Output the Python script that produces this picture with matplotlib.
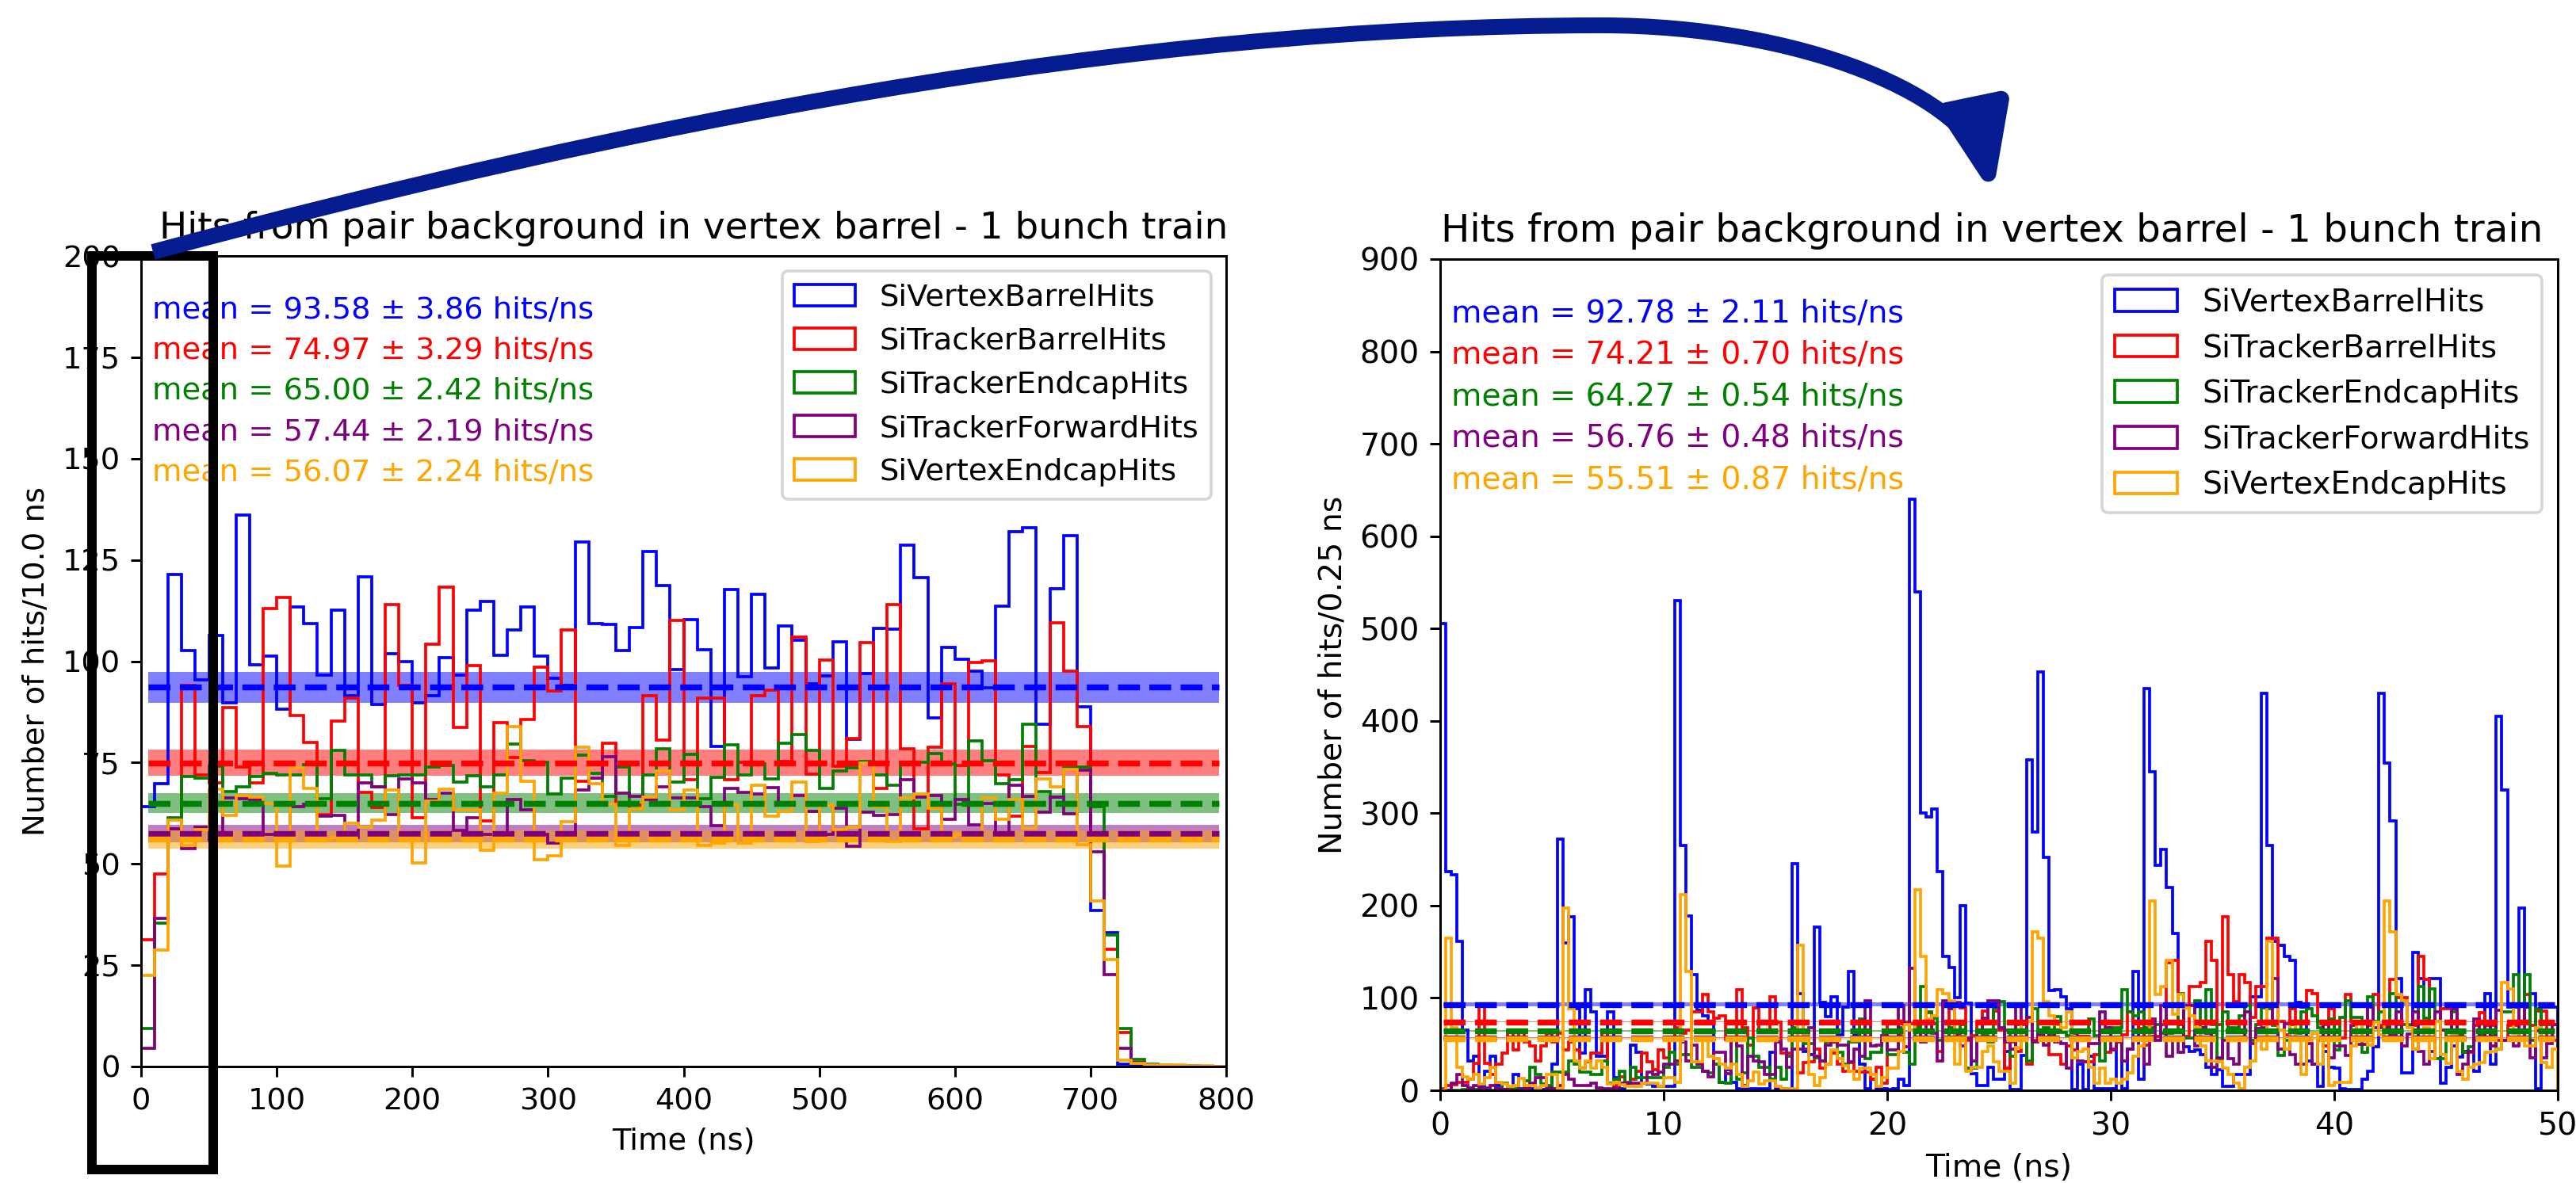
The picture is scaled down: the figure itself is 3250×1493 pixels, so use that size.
import numpy as np
import matplotlib
matplotlib.use("Agg")
import matplotlib.pyplot as plt
from matplotlib.patches import Rectangle, FancyArrowPatch, ArrowStyle
from matplotlib.path import Path

plt.rcParams['font.family'] = ['DejaVu Sans']

# ---------------- data ----------------
detectors = ["SiVertexBarrelHits", "SiTrackerBarrelHits", "SiTrackerEndcapHits",
             "SiTrackerForwardHits", "SiVertexEndcapHits"]
colors = ["blue", "red", "green", "purple", "orange"]

# full bunch train, 10 ns bins from 0 to 800 ns
edges_10ns = np.arange(0, 801, 10)
vtx_barrel_10ns = [64.1, 69.7, 121.5, 102.7, 95.5, 106.4, 89.8, 136, 99.2, 101.2,
                   88.1, 113.4, 109.2, 96.6, 112.7, 91.4, 120.9, 89.4, 101.8, 99.9,
                   89.8, 91.5, 100.9, 96.6, 112.7, 114.8, 101.5, 107.7, 113.4, 101.2,
                   95.7, 94.0, 129.5, 109.2, 109.0, 102.7, 108.3, 127, 118.6, 97.9,
                   110.3, 102.9, 78.9, 117.7, 96.2, 116.6, 98.3, 108.7, 105.1, 94.4,
                   96.3, 104.8, 80.8, 96.9, 108.1, 107.9, 128.7, 120.6, 86.0, 103.4,
                   100.5, 97.6, 93.5, 113.6, 132, 133, 84.4, 117.8, 131, 88.7,
                   38.6, 33.1, 0.6, 0.2, 0.1, 0.1, 0, 0, 0, 0]
trk_barrel_10ns = [31.3, 47.5, 58.6, 94.0, 72.0, 70.0, 88.6, 73.9, 70.0, 113.0,
                   115.8, 86.6, 80.0, 62.1, 85.3, 90.9, 67.6, 63.9, 114.0, 94.0,
                   61.3, 104.3, 118.2, 83.7, 99.0, 60.6, 84.9, 76.3, 85.7, 98.5,
                   92.7, 107.7, 70.4, 71.1, 79.8, 64.7, 64.5, 91.4, 80.6, 110.0,
                   70.7, 90.9, 90.9, 70.7, 75.0, 91.4, 92.8, 75.2, 106.0, 72.2,
                   100.3, 74.1, 80.9, 104.6, 68.7, 114.0, 78.3, 58.6, 78.7, 94.4,
                   74.3, 99.7, 100.1, 72.0, 61.7, 78.9, 72.6, 109.5, 97.5, 83.9,
                   57.0, 29.0, 8.5, 1.0, 0.3, 0.2, 0.1, 0, 0, 0]
trk_endcap_10ns = [9.3, 35.3, 61.3, 71.6, 71.1, 74.1, 67.8, 69.1, 71.6, 72.4,
                   72.0, 72.0, 74.5, 66.1, 78.0, 72.0, 72.0, 69.1, 71.7, 72.0,
                   72.0, 73.9, 74.3, 70.2, 71.7, 69.1, 72.0, 79.6, 75.5, 75.0,
                   67.2, 71.1, 76.9, 72.3, 66.7, 73.9, 63.6, 72.0, 78.3, 70.2,
                   77.1, 66.1, 71.3, 79.3, 72.0, 74.6, 71.0, 79.8, 81.9, 78.0,
                   68.7, 72.9, 73.7, 75.2, 72.0, 69.5, 75.0, 75.0, 77.3, 74.6,
                   64.7, 80.3, 75.4, 69.7, 70.7, 84.4, 67.8, 66.5, 73.7, 73.9,
                   64.1, 32.5, 9.3, 1.7, 0.5, 0.3, 0.2, 0.1, 0, 0]
trk_forward_10ns = [4.5, 36.6, 58.6, 53.7, 59.1, 55.8, 66.2, 66.1, 65.9, 57.3,
                    56.7, 64.1, 64.7, 61.7, 62.0, 56.5, 70.0, 69.1, 62.1, 70.9,
                    70.0, 65.8, 67.4, 58.2, 61.3, 57.3, 57.3, 65.8, 63.4, 57.3,
                    55.1, 56.5, 68.2, 71.1, 76.4, 67.4, 66.7, 65.8, 69.1, 66.2,
                    66.2, 64.1, 59.5, 68.7, 67.6, 67.2, 68.8, 64.7, 66.9, 63.0,
                    57.3, 63.7, 54.3, 62.7, 61.9, 62.1, 70.7, 66.5, 66.8, 61.0,
                    65.8, 59.7, 64.9, 56.9, 69.4, 66.7, 62.8, 66.5, 62.4, 73.2,
                    53.0, 22.6, 4.4, 0.9, 0.3, 0.2, 0.1, 0.1, 0, 0]
vtx_endcap_10ns = [22.4, 28.7, 60.8, 54.5, 58.4, 68.4, 62.0, 66.9, 66.5, 64.9,
                   49.5, 73.7, 68.7, 56.0, 56.5, 60.1, 59.1, 60.8, 68.2, 57.8,
                   50.3, 65.4, 68.4, 63.3, 63.4, 53.4, 67.4, 83.9, 70.4, 51.0,
                   52.1, 60.4, 78.7, 69.7, 64.7, 54.5, 63.6, 66.5, 72.9, 63.3,
                   68.2, 54.5, 55.1, 64.5, 55.1, 69.5, 61.7, 63.0, 70.2, 55.6,
                   64.5, 58.4, 59.1, 74.8, 64.1, 55.6, 66.2, 67.2, 63.7, 56.6,
                   57.3, 56.5, 66.2, 61.0, 65.9, 58.8, 70.9, 69.1, 73.3, 54.7,
                   40.8, 26.4, 1.5, 0.8, 0.3, 0.3, 0.3, 0.2, 0.1, 0]
means_10ns = [93.58, 74.97, 65.00, 57.44, 56.07]
errs_10ns = [3.86, 3.29, 2.42, 2.19, 2.24]

# first 50 ns of the train, 0.25 ns bins
edges_025ns = np.linspace(0, 50, 201)
vtx_barrel_025ns = [505, 237, 233, 161, 65, 32, 37, 5, 21, 37,
                    5, 1, 1, 17, 2, 2, 2, 1, 1, 1,
                    28, 272, 160, 188, 88, 40, 109, 85, 37, 37,
                    85, 14, 2, 8, 49, 41, 8, 7, 4, 4,
                    4, 4, 530, 265, 189, 125, 87, 81, 73, 28,
                    9, 22, 9, 2, 2, 2, 2, 2, 2, 41,
                    2, 2, 2, 245, 105, 42, 39, 177, 95, 80,
                    101, 60, 90, 129, 60, 28, 2, 12, 2, 2,
                    1, 2, 12, 5, 640, 540, 300, 296, 305, 237,
                    145, 133, 100, 200, 94, 18, 5, 5, 25, 12,
                    12, 42, 1, 1, 38, 358, 280, 453, 252, 108,
                    109, 101, 88, 1, 28, 1, 37, 2, 2, 2,
                    2, 54, 2, 45, 129, 12, 435, 345, 244, 261,
                    220, 170, 91, 47, 42, 44, 39, 25, 17, 22,
                    4, 4, 17, 17, 17, 101, 101, 430, 265, 161,
                    157, 145, 141, 95, 90, 32, 28, 4, 42, 25,
                    24, 2, 1, 1, 1, 12, 21, 47, 430, 354,
                    292, 121, 19, 19, 149, 121, 92, 121, 121, 8,
                    25, 48, 36, 42, 42, 21, 54, 105, 28, 405,
                    325, 90, 90, 197, 90, 105, 2, 90, 90, 90]
trk_barrel_025ns = [2, 5, 6, 9, 9, 12, 29, 92, 29, 17,
                    28, 40, 65, 44, 65, 52, 48, 32, 48, 62,
                    52, 62, 44, 52, 44, 24, 31, 40, 40, 65,
                    8, 5, 15, 9, 12, 21, 40, 31, 22, 44,
                    35, 54, 68, 62, 65, 85, 85, 104, 85, 78,
                    81, 55, 54, 109, 68, 49, 89, 65, 65, 101,
                    74, 40, 40, 55, 19, 30, 31, 45, 24, 28,
                    40, 28, 21, 30, 21, 20, 20, 12, 25, 8,
                    75, 75, 59, 74, 72, 70, 74, 84, 72, 42,
                    54, 95, 95, 89, 54, 59, 72, 86, 74, 86,
                    65, 24, 52, 42, 54, 28, 54, 62, 54, 39,
                    39, 28, 48, 44, 58, 58, 31, 39, 54, 41,
                    45, 54, 60, 85, 75, 67, 49, 58, 58, 71,
                    138, 141, 71, 58, 112, 112, 117, 161, 141, 71,
                    188, 125, 96, 125, 117, 79, 112, 112, 165, 165,
                    75, 60, 88, 75, 75, 108, 105, 75, 48, 88,
                    57, 57, 104, 75, 55, 55, 70, 104, 70, 70,
                    120, 100, 100, 70, 70, 145, 120, 75, 75, 88,
                    88, 88, 59, 41, 41, 70, 84, 70, 70, 54,
                    54, 70, 70, 72, 104, 70, 86, 86, 54, 54]
trk_endcap_025ns = [0, 0, 0, 0, 1, 2, 1, 0, 2, 0,
                    2, 8, 3, 2, 1, 10, 25, 17, 7, 5,
                    20, 20, 20, 32, 28, 20, 20, 17, 17, 32,
                    8, 12, 21, 8, 25, 14, 14, 14, 14, 14,
                    25, 41, 28, 39, 39, 25, 25, 21, 19, 28,
                    9, 8, 57, 12, 19, 57, 37, 25, 25, 12,
                    25, 12, 37, 68, 65, 51, 51, 35, 32, 52,
                    52, 41, 28, 52, 52, 77, 34, 41, 41, 55,
                    39, 39, 68, 41, 28, 68, 112, 85, 78, 54,
                    54, 68, 61, 71, 24, 24, 65, 59, 52, 89,
                    96, 65, 37, 71, 71, 32, 88, 54, 68, 59,
                    80, 63, 59, 63, 63, 63, 77, 59, 32, 54,
                    68, 68, 109, 85, 81, 85, 68, 68, 71, 62,
                    62, 65, 105, 57, 57, 97, 68, 109, 71, 34,
                    85, 68, 68, 81, 92, 54, 71, 89, 88, 70,
                    38, 54, 71, 62, 85, 88, 81, 68, 71, 77,
                    44, 79, 97, 79, 79, 41, 101, 75, 85, 71,
                    105, 71, 71, 71, 45, 112, 78, 110, 34, 34,
                    65, 85, 59, 41, 47, 54, 59, 75, 59, 45,
                    85, 85, 125, 72, 125, 54, 88, 71, 71, 71]
trk_forward_025ns = [0, 0, 8, 17, 5, 3, 5, 3, 3, 5,
                     2, 1, 0, 0, 1, 2, 8, 14, 14, 3,
                     2, 5, 17, 12, 5, 5, 5, 8, 3, 2,
                     2, 3, 8, 8, 8, 8, 8, 20, 17, 20,
                     28, 28, 32, 52, 32, 49, 28, 21, 15, 41,
                     41, 18, 55, 48, 5, 37, 32, 31, 17, 17,
                     52, 45, 25, 45, 45, 45, 68, 37, 32, 49,
                     52, 49, 49, 31, 45, 37, 97, 48, 49, 59,
                     44, 44, 92, 47, 132, 65, 52, 72, 62, 32,
                     97, 88, 61, 48, 57, 32, 65, 78, 97, 97,
                     68, 52, 45, 92, 54, 79, 52, 61, 49, 65,
                     52, 51, 24, 62, 32, 31, 51, 51, 85, 68,
                     44, 52, 32, 45, 54, 57, 28, 77, 54, 92,
                     37, 54, 41, 92, 92, 48, 68, 62, 25, 35,
                     54, 34, 28, 54, 85, 51, 67, 68, 72, 121,
                     45, 72, 39, 28, 28, 51, 28, 54, 72, 35,
                     48, 48, 38, 70, 50, 50, 90, 68, 68, 68,
                     59, 85, 48, 61, 85, 42, 28, 42, 85, 65,
                     65, 88, 17, 28, 42, 77, 57, 75, 48, 87,
                     54, 54, 48, 92, 54, 35, 64, 35, 51, 71]
vtx_endcap_025ns = [0, 165, 68, 25, 15, 12, 17, 7, 14, 25,
                    9, 7, 4, 5, 13, 5, 5, 3, 5, 17,
                    17, 2, 197, 88, 32, 24, 32, 24, 32, 25,
                    7, 9, 6, 4, 4, 4, 8, 8, 8, 4,
                    14, 14, 9, 212, 129, 31, 31, 55, 37, 34,
                    28, 24, 28, 17, 4, 10, 20, 7, 10, 10,
                    4, 2, 2, 2, 157, 59, 17, 5, 14, 28,
                    44, 34, 27, 21, 12, 24, 24, 17, 4, 14,
                    24, 24, 42, 71, 65, 217, 145, 77, 81, 109,
                    105, 97, 28, 58, 21, 25, 25, 42, 48, 31,
                    21, 21, 8, 46, 75, 75, 172, 165, 96, 81,
                    71, 68, 85, 35, 42, 45, 25, 8, 24, 8,
                    12, 8, 12, 19, 37, 48, 54, 205, 104, 112,
                    141, 82, 104, 89, 81, 68, 48, 32, 32, 31,
                    24, 17, 8, 2, 25, 32, 54, 45, 161, 92,
                    65, 45, 75, 57, 17, 54, 62, 28, 54, 5,
                    9, 9, 9, 48, 75, 57, 49, 74, 60, 205,
                    172, 104, 97, 68, 45, 57, 68, 34, 75, 39,
                    29, 59, 21, 12, 25, 28, 30, 41, 42, 45,
                    117, 110, 62, 55, 48, 48, 68, 30, 25, 45]
means_025ns = [92.78, 74.21, 64.27, 56.76, 55.51]
errs_025ns = [2.11, 0.70, 0.54, 0.48, 0.87]

title = "Hits from pair background in vertex barrel - 1 bunch train"

# ---------------- figure ----------------
W, H, DPI = 3250, 1493, 268
fig = plt.figure(figsize=(W / DPI, H / DPI), dpi=DPI)


def frac_box(x0, y0, x1, y1):
    """pixel box (top-left origin) -> figure fraction [l, b, w, h]"""
    return [x0 / W, 1 - y1 / H, (x1 - x0) / W, (y1 - y0) / H]


def fx(x):
    return x / W


def fy(y):
    return 1 - y / H


def draw_panel(ax, edges, series, means, errs, ylabel, xlim, ylim, yticks, xticks,
               fs_text, fs_title, text_top, title_x):
    centers = 0.5 * (edges[1:] + edges[:-1])
    for vals, c, name in zip(series, colors, detectors):
        ax.hist(centers, bins=edges, weights=vals, histtype='step', color=c,
                label=name, linewidth=1.0)
    for i, (m, e, c) in enumerate(zip(means, errs, colors)):
        ax.fill_between(centers, m - e, m + e, color=c, alpha=0.5, linewidth=0)
        ax.plot(centers, np.full_like(centers, m), '--', color=c, linewidth=2)
        ax.text(0.01, text_top - 0.05 * i, f"mean = {m:.2f} \u00b1 {e:.2f} hits/ns",
                color=c, transform=ax.transAxes, va='top', ha='left',
                fontsize=fs_text)
    ax.set_xlim(*xlim)
    ax.set_ylim(*ylim)
    ax.set_xticks(xticks)
    ax.set_yticks(yticks)
    ax.tick_params(labelsize=fs_text)
    ax.set_xlabel("Time (ns)", fontsize=fs_text)
    ax.set_ylabel(ylabel, fontsize=fs_text)
    ax.set_title(title, fontsize=fs_title, x=title_x)
    ax.legend(loc='upper right', fontsize=fs_text)


axL = fig.add_axes(frac_box(178, 323, 1547, 1346))
draw_panel(axL, edges_10ns,
           [vtx_barrel_10ns, trk_barrel_10ns, trk_endcap_10ns, trk_forward_10ns, vtx_endcap_10ns],
           means_10ns, errs_10ns, "Number of hits/10.0 ns",
           (0, 800), (0, 200), np.arange(0, 201, 25), np.arange(0, 801, 100),
           10.3, 12.6, 0.95, 0.509)

axR = fig.add_axes(frac_box(1817, 327, 3227, 1376))
draw_panel(axR, edges_025ns,
           [vtx_barrel_025ns, trk_barrel_025ns, trk_endcap_025ns, trk_forward_025ns, vtx_endcap_025ns],
           means_025ns, errs_025ns, "Number of hits/0.25 ns",
           (0, 50), (0, 900), np.arange(0, 901, 100), np.arange(0, 51, 10),
           10.6, 13.0, 0.953, 0.494)

# zoom window marking the first 50 ns of the left panel
rect = Rectangle((fx(116), fy(1476)), fx(269) - fx(116), fy(323) - fy(1476),
                 transform=fig.transFigure, fill=False, edgecolor='black',
                 linewidth=12 * 72 / DPI, joinstyle='miter', zorder=10)
fig.patches.append(rect)

# curved arrow from the window to the zoomed panel
pts = [(193, 318), (793, 156), (1421, 32), (2021, 32),
       (2271, 32), (2488, 121), (2514, 246)]
verts = [(fx(x), fy(y)) for x, y in pts]
codes = [Path.MOVETO, Path.CURVE4, Path.CURVE4, Path.CURVE4,
         Path.CURVE4, Path.CURVE4, Path.CURVE4]
arrow = FancyArrowPatch(path=Path(verts, codes), transform=fig.transFigure,
                        arrowstyle=ArrowStyle("-|>", head_length=24, head_width=9.5),
                        mutation_scale=1, color='#041c8f',
                        linewidth=20 * 72 / DPI, capstyle='butt', zorder=11)
fig.patches.append(arrow)

fig.savefig("out.png", dpi=DPI)
